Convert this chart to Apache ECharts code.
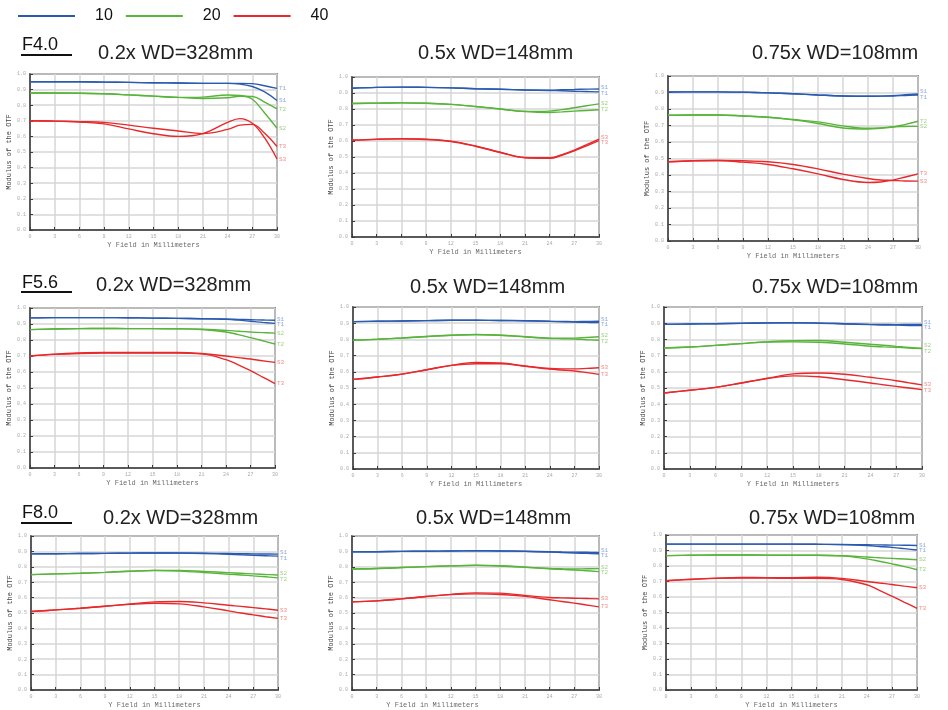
<!DOCTYPE html>
<html>
<head>
<meta charset="utf-8">
<script src="https://cdn.jsdelivr.net/npm/echarts@6/dist/echarts.min.js"></script>
<style>
  html, body { margin: 0; padding: 0; background: #ffffff; }
  #chart { width: 948px; height: 710px; }
</style>
</head>
<body>
<div id="chart"></div>
<script>
// Field positions (mm) at which MTF values are sampled
const FIELD = [0, 3, 6, 9, 12, 15, 18, 21, 24, 25.5, 27, 28.5, 30];

// Spatial frequencies (lp/mm) and curve ids: S = sagittal, T = tangential
const FREQS = ['10', '20', '40'];
const CURVES = ['S1', 'T1', 'S2', 'T2', 'S3', 'T3'];

const APERTURES = ['F4.0', 'F5.6', 'F8.0'];
const MAGNIFICATIONS = ['0.2x WD=328mm', '0.5x WD=148mm', '0.75x WD=108mm'];

// ---- MTF values, one array per curve in CURVES order ----
// F4.0
const F40_M02 = [
  [0.95, 0.95, 0.95, 0.948, 0.946, 0.944, 0.942, 0.94, 0.94, 0.935, 0.92, 0.885, 0.83],
  [0.95, 0.95, 0.95, 0.948, 0.946, 0.944, 0.942, 0.94, 0.94, 0.94, 0.938, 0.925, 0.908],
  [0.878, 0.878, 0.877, 0.873, 0.866, 0.858, 0.85, 0.852, 0.865, 0.862, 0.838, 0.75, 0.652],
  [0.878, 0.878, 0.877, 0.873, 0.866, 0.858, 0.85, 0.843, 0.848, 0.857, 0.856, 0.82, 0.776],
  [0.70, 0.698, 0.692, 0.68, 0.648, 0.617, 0.60, 0.618, 0.69, 0.714, 0.684, 0.59, 0.455],
  [0.70, 0.698, 0.695, 0.69, 0.672, 0.652, 0.635, 0.618, 0.645, 0.672, 0.677, 0.62, 0.535]
];
const F40_M05 = [
  [0.93, 0.935, 0.937, 0.935, 0.932, 0.927, 0.923, 0.919, 0.917, 0.92, 0.922, 0.924, 0.925],
  [0.93, 0.935, 0.937, 0.935, 0.932, 0.927, 0.923, 0.919, 0.916, 0.914, 0.911, 0.909, 0.907],
  [0.834, 0.837, 0.838, 0.836, 0.829, 0.816, 0.80, 0.785, 0.787, 0.796, 0.808, 0.82, 0.832],
  [0.834, 0.837, 0.838, 0.836, 0.829, 0.816, 0.80, 0.784, 0.778, 0.782, 0.787, 0.791, 0.795],
  [0.606, 0.612, 0.614, 0.611, 0.599, 0.569, 0.53, 0.497, 0.495, 0.515, 0.543, 0.577, 0.612],
  [0.604, 0.61, 0.613, 0.609, 0.597, 0.567, 0.528, 0.495, 0.492, 0.511, 0.538, 0.57, 0.602]
];
const F40_M075 = [
  [0.903, 0.904, 0.904, 0.902, 0.898, 0.892, 0.885, 0.879, 0.877, 0.878, 0.881, 0.886, 0.891],
  [0.903, 0.904, 0.904, 0.902, 0.898, 0.892, 0.885, 0.879, 0.877, 0.878, 0.879, 0.882, 0.885],
  [0.762, 0.764, 0.764, 0.758, 0.75, 0.736, 0.722, 0.698, 0.683, 0.685, 0.692, 0.694, 0.695],
  [0.762, 0.764, 0.764, 0.758, 0.75, 0.734, 0.712, 0.685, 0.679, 0.683, 0.69, 0.707, 0.726],
  [0.48, 0.486, 0.488, 0.486, 0.48, 0.464, 0.4375, 0.405, 0.379, 0.37, 0.367, 0.364, 0.363],
  [0.48, 0.486, 0.488, 0.478, 0.464, 0.4375, 0.407, 0.373, 0.355, 0.358, 0.369, 0.388, 0.407]
];
// F5.6
const F56_M02 = [
  [0.938, 0.94, 0.94, 0.94, 0.939, 0.937, 0.935, 0.933, 0.931, 0.929, 0.927, 0.925, 0.923],
  [0.938, 0.94, 0.94, 0.94, 0.939, 0.937, 0.935, 0.933, 0.929, 0.924, 0.917, 0.91, 0.904],
  [0.865, 0.869, 0.871, 0.872, 0.871, 0.871, 0.87, 0.868, 0.86, 0.855, 0.85, 0.846, 0.843],
  [0.865, 0.869, 0.871, 0.872, 0.871, 0.871, 0.87, 0.866, 0.85, 0.834, 0.815, 0.795, 0.775],
  [0.70, 0.712, 0.719, 0.722, 0.722, 0.722, 0.722, 0.716, 0.70, 0.69, 0.681, 0.67, 0.66],
  [0.70, 0.71, 0.716, 0.718, 0.718, 0.718, 0.718, 0.713, 0.677, 0.645, 0.608, 0.568, 0.527]
];
const F56_M05 = [
  [0.91, 0.912, 0.914, 0.916, 0.918, 0.918, 0.917, 0.915, 0.912, 0.911, 0.91, 0.911, 0.912],
  [0.91, 0.912, 0.914, 0.916, 0.918, 0.918, 0.917, 0.915, 0.911, 0.909, 0.907, 0.905, 0.904],
  [0.795, 0.801, 0.809, 0.818, 0.826, 0.831, 0.826, 0.816, 0.808, 0.807, 0.808, 0.812, 0.816],
  [0.795, 0.801, 0.809, 0.818, 0.826, 0.829, 0.826, 0.816, 0.806, 0.804, 0.802, 0.798, 0.795],
  [0.553, 0.568, 0.586, 0.613, 0.64, 0.658, 0.654, 0.636, 0.62, 0.618, 0.618, 0.621, 0.625],
  [0.553, 0.568, 0.586, 0.613, 0.64, 0.65, 0.65, 0.634, 0.617, 0.611, 0.605, 0.595, 0.584]
];
const F56_M075 = [
  [0.893, 0.895, 0.897, 0.90, 0.902, 0.903, 0.902, 0.897, 0.893, 0.892, 0.891, 0.892, 0.893],
  [0.893, 0.895, 0.897, 0.899, 0.901, 0.902, 0.899, 0.895, 0.891, 0.889, 0.888, 0.886, 0.885],
  [0.747, 0.753, 0.763, 0.774, 0.785, 0.792, 0.793, 0.782, 0.77, 0.764, 0.757, 0.75, 0.745],
  [0.747, 0.753, 0.763, 0.774, 0.784, 0.785, 0.782, 0.772, 0.758, 0.754, 0.751, 0.747, 0.743],
  [0.469, 0.486, 0.504, 0.531, 0.56, 0.587, 0.593, 0.585, 0.566, 0.556, 0.545, 0.532, 0.519],
  [0.469, 0.486, 0.504, 0.531, 0.558, 0.575, 0.569, 0.551, 0.531, 0.52, 0.51, 0.50, 0.49]
];
// F8.0
const F80_M02 = [
  [0.884, 0.885, 0.886, 0.887, 0.889, 0.89, 0.89, 0.888, 0.886, 0.885, 0.884, 0.883, 0.882],
  [0.884, 0.885, 0.886, 0.887, 0.889, 0.89, 0.889, 0.886, 0.881, 0.878, 0.875, 0.872, 0.869],
  [0.749, 0.754, 0.758, 0.764, 0.771, 0.777, 0.777, 0.77, 0.762, 0.758, 0.754, 0.75, 0.747],
  [0.749, 0.754, 0.758, 0.764, 0.771, 0.776, 0.772, 0.763, 0.752, 0.747, 0.741, 0.735, 0.728],
  [0.51, 0.52, 0.531, 0.544, 0.558, 0.572, 0.575, 0.566, 0.55, 0.543, 0.535, 0.527, 0.518],
  [0.51, 0.52, 0.531, 0.544, 0.556, 0.563, 0.559, 0.54, 0.514, 0.50, 0.488, 0.476, 0.465]
];
const F80_M05 = [
  [0.897, 0.898, 0.90, 0.901, 0.903, 0.904, 0.903, 0.901, 0.898, 0.896, 0.895, 0.894, 0.893],
  [0.897, 0.898, 0.90, 0.901, 0.903, 0.904, 0.903, 0.90, 0.896, 0.893, 0.89, 0.887, 0.885],
  [0.786, 0.789, 0.795, 0.801, 0.806, 0.81, 0.807, 0.798, 0.789, 0.787, 0.786, 0.787, 0.788],
  [0.786, 0.789, 0.795, 0.801, 0.806, 0.809, 0.805, 0.797, 0.787, 0.783, 0.779, 0.774, 0.769],
  [0.573, 0.579, 0.592, 0.607, 0.621, 0.631, 0.629, 0.614, 0.601, 0.598, 0.596, 0.594, 0.592],
  [0.573, 0.579, 0.592, 0.607, 0.619, 0.624, 0.62, 0.608, 0.586, 0.575, 0.564, 0.552, 0.54]
];
const F80_M075 = [
  [0.941, 0.941, 0.941, 0.941, 0.941, 0.941, 0.94, 0.939, 0.937, 0.936, 0.935, 0.934, 0.932],
  [0.941, 0.941, 0.941, 0.941, 0.941, 0.941, 0.94, 0.938, 0.932, 0.926, 0.92, 0.912, 0.903],
  [0.867, 0.869, 0.871, 0.871, 0.87, 0.869, 0.869, 0.866, 0.858, 0.853, 0.849, 0.845, 0.84],
  [0.867, 0.869, 0.871, 0.871, 0.87, 0.869, 0.869, 0.865, 0.846, 0.831, 0.814, 0.796, 0.776],
  [0.705, 0.715, 0.722, 0.726, 0.725, 0.725, 0.727, 0.72, 0.70, 0.69, 0.681, 0.67, 0.66],
  [0.705, 0.713, 0.72, 0.722, 0.722, 0.72, 0.72, 0.713, 0.679, 0.643, 0.605, 0.566, 0.527]
];

// Panels in reading order (row = aperture, column = magnification)
const PANELS = [F40_M02, F40_M05, F40_M075, F56_M02, F56_M05, F56_M075, F80_M02, F80_M05, F80_M075];

// ---- layout and styling ----
// plot rectangles [left, top, width, height]
const GRID_RECTS = [
  [30, 74, 247, 156], [352, 77, 247, 160], [668, 76, 250, 165],
  [30, 308, 245, 160], [353, 307, 246, 162], [664, 307, 258, 162],
  [31, 536, 247, 156], [352, 536, 247, 156], [666, 535, 251, 158]
];
// aperture label: [x, centerY, underlineY]
const APERTURE_POS = [[22, 45, 55], [22, 283, 292], [22, 513, 523]];
// magnification titles: [x, centerY] per panel
const TITLE_POS = [
  [98, 53], [418, 53], [752, 53],
  [96, 285], [410, 287], [752, 287],
  [103, 518], [416, 518], [749, 518]
];
const LINE_COLORS = ['#2b5bb0', '#58b43a', '#e8292b'];
const LABEL_COLORS = ['#8ea9dc', '#9ed383', '#f28a8a'];
const MONO = '"Liberation Mono", "DejaVu Sans Mono", monospace';
const SANS = '"Liberation Sans", Arial, sans-serif';

// Spread end labels apart so that close curve ends stay readable
function endLabelOffsets(values, height) {
  const minGap = 5.5;
  const items = values.map((v, i) => ({ i, y0: height * (1 - v), y: height * (1 - v) }));
  const sorted = items.slice().sort((a, b) => a.y0 - b.y0);
  for (let pass = 0; pass < 30; pass++) {
    for (let k = 1; k < sorted.length; k++) {
      const d = sorted[k].y - sorted[k - 1].y;
      if (d < minGap) {
        const push = (minGap - d) / 2;
        sorted[k - 1].y -= push;
        sorted[k].y += push;
      }
    }
  }
  return items.map(it => it.y - it.y0);
}

const grids = [], xAxes = [], yAxes = [], series = [];
PANELS.forEach((panel, p) => {
  const [l, t, w, h] = GRID_RECTS[p];
  grids.push({ left: l, top: t, width: w, height: h, show: true, borderColor: '#3a3a3a', borderWidth: 1.5, backgroundColor: '#fff' });
  xAxes.push({
    gridIndex: p, type: 'value', min: 0, max: 30, interval: 3,
    axisLine: { show: true, onZero: false, lineStyle: { color: '#3a3a3a', width: 1.5 } },
    axisTick: { show: true, inside: true, length: 3, lineStyle: { color: '#3a3a3a' } },
    axisLabel: { fontSize: 5, color: '#aaaaaa', margin: 4, fontFamily: MONO },
    splitLine: { show: true, lineStyle: { color: '#d6d6d6', width: 1.5 } },
    name: 'Y Field in Millimeters', nameLocation: 'middle', nameGap: 12,
    nameTextStyle: { fontSize: 7, color: '#6a6a6a', fontFamily: MONO,
      padding: p === 7 ? [0, 86, 0, 0] : 0 }
  });
  yAxes.push({
    gridIndex: p, type: 'value', min: 0, max: 1, interval: 0.1,
    axisLine: { show: true, onZero: false, lineStyle: { color: '#3a3a3a', width: 1.5 } },
    axisTick: { show: true, inside: true, length: 3, lineStyle: { color: '#3a3a3a' } },
    axisLabel: { fontSize: 5, color: '#aaaaaa', margin: 4, fontFamily: MONO, formatter: v => v.toFixed(1) },
    splitLine: { show: true, lineStyle: { color: '#d6d6d6', width: 1.5 } },
    name: 'Modulus of the OTF', nameLocation: 'middle', nameGap: 14,
    nameTextStyle: { fontSize: 7, color: '#444444', fontFamily: MONO }
  });
  const offsets = endLabelOffsets(panel.map(c => c[c.length - 1]), h);
  panel.forEach((values, c) => {
    const f = Math.floor(c / 2);
    series.push({
      type: 'line', name: FREQS[f], xAxisIndex: p, yAxisIndex: p,
      data: FIELD.map((x, k) => [x, values[k]]),
      smooth: 0.4, symbol: 'none', silent: true,
      itemStyle: { color: LINE_COLORS[f] },
      lineStyle: { color: LINE_COLORS[f], width: 1.4 },
      endLabel: {
        show: true, formatter: CURVES[c], color: LABEL_COLORS[f],
        fontSize: 6, fontFamily: MONO, distance: 2, offset: [0, offsets[c]]
      }
    });
  });
});

const graphic = [];
APERTURES.forEach((txt, r) => {
  const [x, y, uy] = APERTURE_POS[r];
  graphic.push({ type: 'text', x, y, style: { text: txt, font: '18px ' + SANS, fill: '#111', verticalAlign: 'middle' } });
  graphic.push({ type: 'line', shape: { x1: x - 1, y1: uy, x2: x + 50, y2: uy }, style: { stroke: '#111', lineWidth: 2 } });
});
TITLE_POS.forEach(([x, y], p) => {
  graphic.push({ type: 'text', x, y, style: { text: MAGNIFICATIONS[p % 3], font: '20px ' + SANS, fill: '#222', verticalAlign: 'middle' } });
});

const chart = echarts.init(document.getElementById('chart'), null, { renderer: 'canvas' });
chart.setOption({
  animation: false,
  backgroundColor: '#ffffff',
  legend: {
    data: FREQS, left: 18, top: 8, padding: 0, icon: 'rect',
    itemWidth: 57, itemHeight: 2, itemGap: 13, selectedMode: false,
    textStyle: { fontSize: 16, color: '#111', fontFamily: SANS, padding: [0, 0, 0, 15] }
  },
  grid: grids, xAxis: xAxes, yAxis: yAxes, series, graphic
});
</script>
</body>
</html>
